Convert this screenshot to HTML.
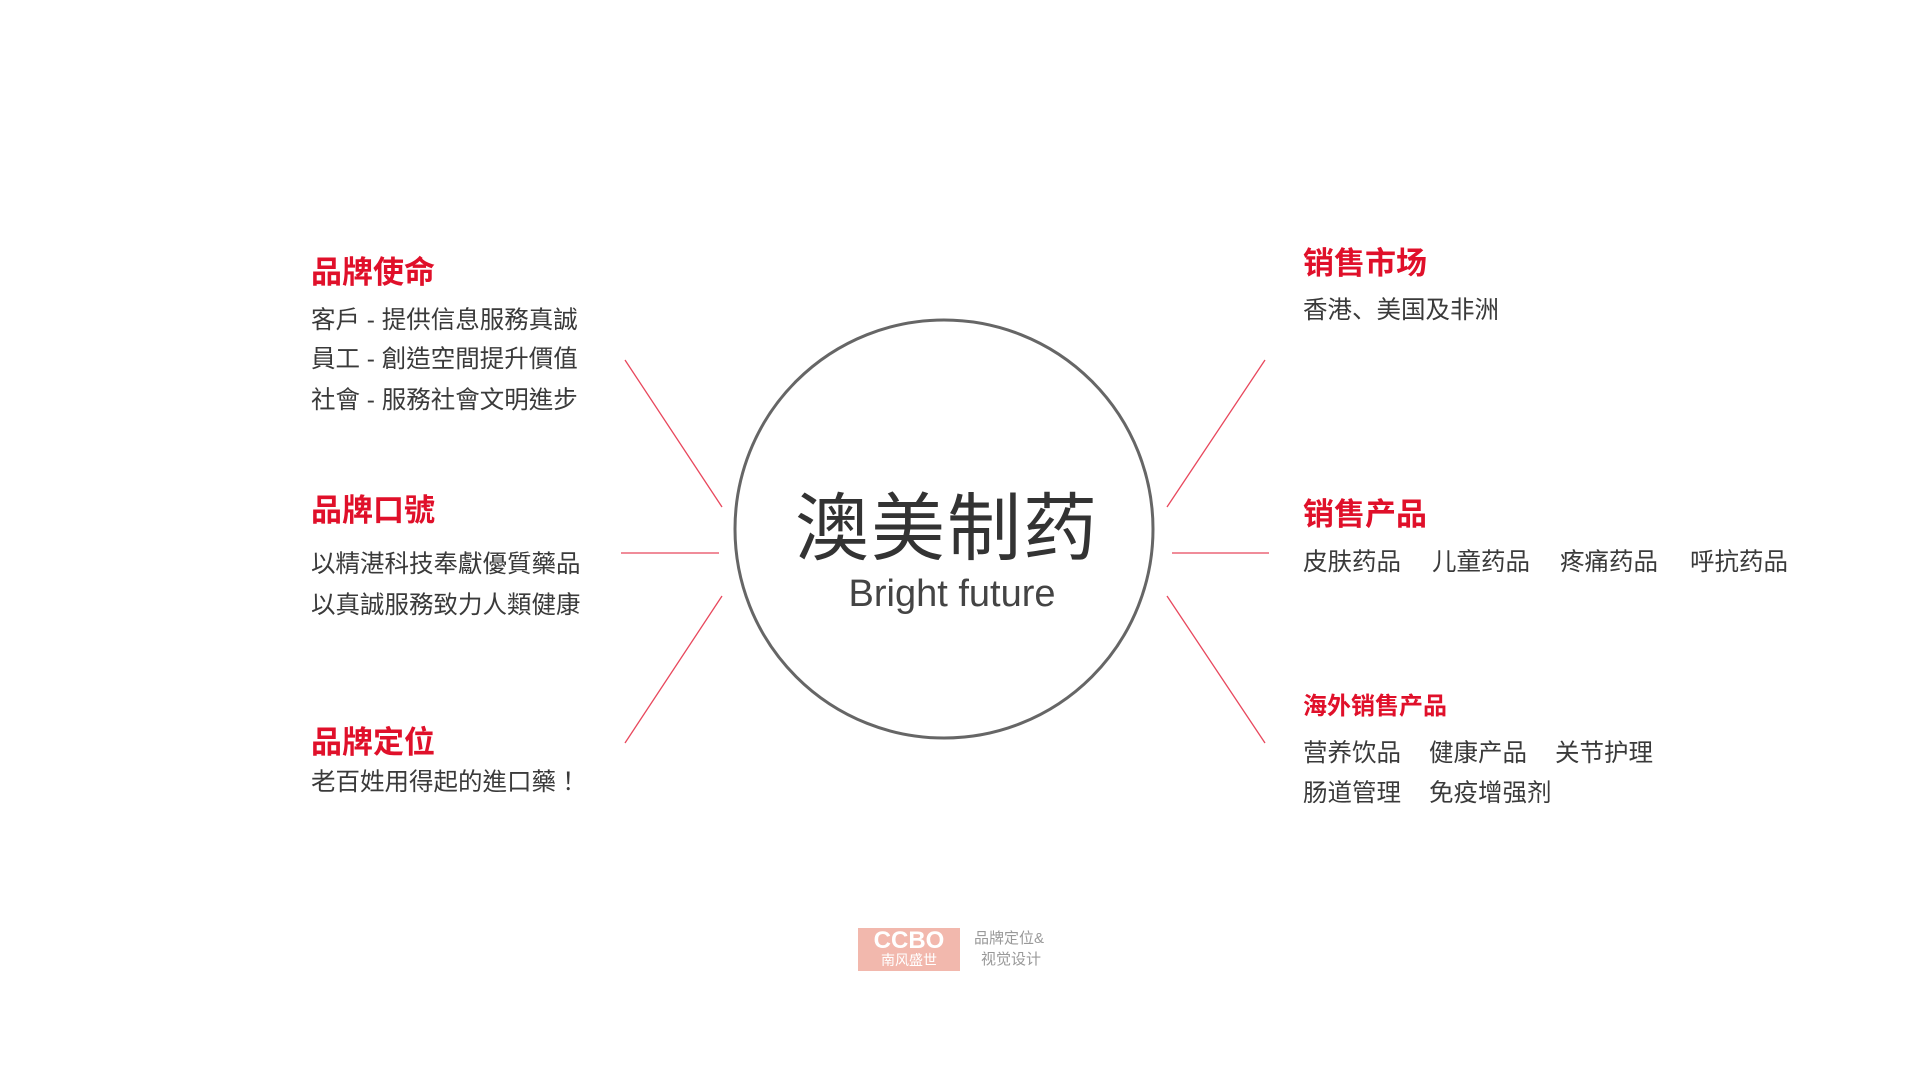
<!DOCTYPE html>
<html><head><meta charset="utf-8"><style>
body{margin:0;width:1920px;height:1080px;background:#fff;position:relative;overflow:hidden;font-family:"Liberation Sans","Noto Sans CJK SC",sans-serif;}
.t{position:absolute;white-space:nowrap;line-height:1;}
.h{color:#e0102a;font-size:31px;font-weight:bold;}
.b{color:#3a3a3a;font-size:24.5px;font-family:"Liberation Sans","Noto Sans CJK TC",sans-serif;}
.g{color:#3a3a3a;font-size:24.5px;}
</style></head><body>
<svg width="1920" height="1080" style="position:absolute;left:0;top:0">
<circle cx="944" cy="529" r="209" fill="none" stroke="#666" stroke-width="3"/>
<g stroke="#e8475c" stroke-width="1.3">
<line x1="625" y1="360" x2="722" y2="507"/>
<line x1="621" y1="553" x2="719" y2="553"/>
<line x1="625" y1="743" x2="722" y2="596"/>
<line x1="1265" y1="360" x2="1167" y2="507"/>
<line x1="1172" y1="553" x2="1269" y2="553"/>
<line x1="1167" y1="596" x2="1265" y2="743"/>
</g>
<rect x="858" y="928" width="102" height="43" fill="#f2b8ad"/>
</svg>
<div class="t h" style="left:311px;top:257px">品牌使命</div>
<div class="t b" style="left:311px;top:309px">客戶 - 提供信息服務真誠</div>
<div class="t b" style="left:311px;top:348px">員工 - 創造空間提升價值</div>
<div class="t b" style="left:311px;top:389px">社會 - 服務社會文明進步</div>
<div class="t h" style="left:311px;top:495px;font-family:'Liberation Sans','Noto Sans CJK TC',sans-serif">品牌口號</div>
<div class="t b" style="left:311px;top:553px">以精湛科技奉獻優質藥品</div>
<div class="t b" style="left:311px;top:594px">以真誠服務致力人類健康</div>
<div class="t h" style="left:311px;top:727px">品牌定位</div>
<div class="t b" style="left:311px;top:771px">老百姓用得起的進口藥！</div>

<div class="t" style="left:947px;top:492px;transform:translateX(-50%);font-size:74px;color:#333;letter-spacing:2px">澳美制药</div>
<div class="t" style="left:952px;top:575px;transform:translateX(-50%);font-size:38px;color:#444">Bright future</div>

<div class="t h" style="left:1303px;top:248px">销售市场</div>
<div class="t g" style="left:1303px;top:299px">香港、美国及非洲</div>
<div class="t h" style="left:1303px;top:499px">销售产品</div>
<div class="t g" style="left:1303px;top:551px">皮肤药品</div>
<div class="t g" style="left:1432px;top:551px">儿童药品</div>
<div class="t g" style="left:1560px;top:551px">疼痛药品</div>
<div class="t g" style="left:1690px;top:551px">呼抗药品</div>
<div class="t h" style="left:1303px;top:695px;font-size:24px">海外销售产品</div>
<div class="t g" style="left:1303px;top:742px">营养饮品</div>
<div class="t g" style="left:1429px;top:742px">健康产品</div>
<div class="t g" style="left:1555px;top:742px">关节护理</div>
<div class="t g" style="left:1303px;top:782px">肠道管理</div>
<div class="t g" style="left:1429px;top:782px">免疫增强剂</div>

<div class="t" style="left:909px;top:929px;transform:translateX(-50%);color:#fff;font-size:24px;font-weight:bold">CCBO</div>
<div class="t" style="left:909px;top:953px;transform:translateX(-50%);color:#fff;font-size:14px">南风盛世</div>
<div class="t" style="left:974px;top:931px;color:#999;font-size:15px">品牌定位&amp;</div>
<div class="t" style="left:981px;top:952px;color:#999;font-size:15px">视觉设计</div>
</body></html>
